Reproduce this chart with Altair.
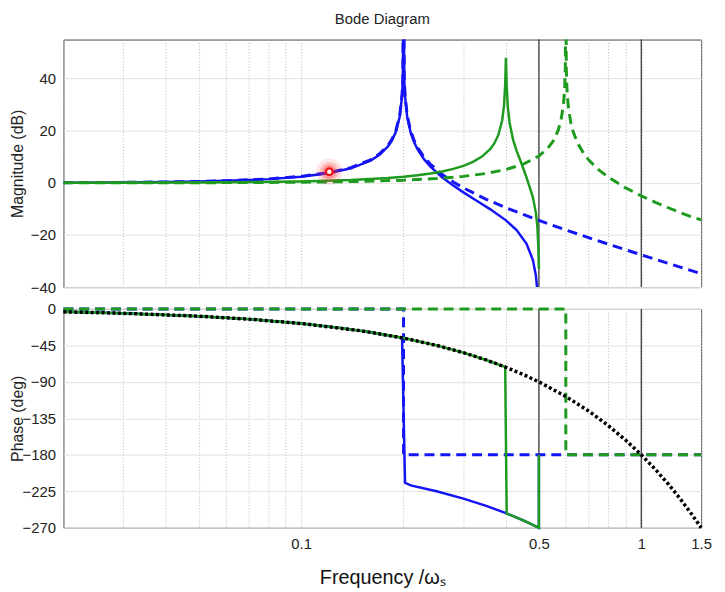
import altair as alt
import pandas as pd

# ---------------- data ----------------
# Magnitude panel (dB)
f_blue_solid = [0.02, 0.03, 0.04, 0.05, 0.06, 0.08, 0.1, 0.12, 0.14, 0.16, 0.17, 0.18, 0.185, 0.19,
                0.195, 0.198, 0.199, 0.2, 0.201, 0.202, 0.205, 0.21, 0.215, 0.22, 0.23, 0.24, 0.26,
                0.28, 0.3, 0.33, 0.36, 0.4, 0.43, 0.46, 0.48, 0.49, 0.495, 0.5]
m_blue_solid = [0.08, 0.19, 0.34, 0.53, 0.78, 1.44, 2.37, 3.69, 5.59, 8.53, 10.74, 13.97, 16.33, 19.71,
                25.59, 33.46, 39.5, 80.0, 39.4, 33.34, 25.3, 19.13, 15.47, 12.82, 9.01, 6.22, 2.09,
                -1.04, -3.65, -7.04, -10.15, -14.38, -18.12, -23.38, -29.54, -35.59, -41.6, -80.0]

f_blue_dash = [0.02, 0.03, 0.04, 0.05, 0.06, 0.08, 0.1, 0.12, 0.14, 0.16, 0.17, 0.18, 0.185, 0.19,
               0.195, 0.198, 0.199, 0.2, 0.201, 0.202, 0.205, 0.21, 0.215, 0.22, 0.23, 0.24, 0.26,
               0.28, 0.3, 0.35, 0.4, 0.5, 0.6, 0.7, 0.8, 1.0, 1.2, 1.5]
m_blue_dash = [0.09, 0.2, 0.36, 0.56, 0.82, 1.51, 2.5, 3.88, 5.85, 8.87, 11.14, 14.42, 16.81, 20.22,
               26.13, 34.0, 40.0, 80.0, 39.97, 33.9, 25.91, 19.79, 16.16, 13.56, 9.83, 7.13, 3.22,
               0.36, -1.94, -6.29, -9.54, -14.4, -18.06, -21.02, -23.52, -27.6, -30.88, -34.85]

f_green_solid = [0.02, 0.05, 0.1, 0.14, 0.18, 0.2, 0.22, 0.24, 0.26, 0.28, 0.3, 0.32, 0.34, 0.36,
                 0.37, 0.38, 0.39, 0.395, 0.398, 0.4, 0.402, 0.405, 0.41, 0.42, 0.43, 0.44, 0.46,
                 0.48, 0.49, 0.495, 0.498, 0.5]
m_green_solid = [0.02, 0.13, 0.53, 1.07, 1.85, 2.34, 2.92, 3.59, 4.4, 5.37, 6.55, 8.06, 10.08, 13.04,
                 15.23, 18.4, 24.03, 29.85, 37.7, 48.0, 37.57, 29.38, 23.1, 16.5, 12.3, 8.97, 2.0,
                 -5.5, -11.5, -17.0, -24.5, -33.0]

f_green_dash = [0.02, 0.05, 0.1, 0.15, 0.2, 0.25, 0.3, 0.35, 0.4, 0.45, 0.5, 0.53, 0.55, 0.57, 0.58,
                0.59, 0.595, 0.598, 0.6, 0.602, 0.605, 0.61, 0.62, 0.63, 0.65, 0.68, 0.7, 0.75, 0.8,
                0.9, 1.0, 1.1, 1.2, 1.3, 1.4, 1.5]
m_green_dash = [0.01, 0.06, 0.25, 0.56, 1.02, 1.66, 2.5, 3.61, 5.11, 7.18, 10.3, 13.16, 15.93, 20.22,
                23.67, 29.61, 35.6, 43.5, 80.0, 43.5, 35.53, 29.47, 23.38, 19.79, 15.21, 10.92, 8.85,
                5.0, 2.18, -1.94, -5.0, -7.46, -9.54, -11.35, -12.96, -14.2]

marker_f = [0.121]
marker_m = [4.3]

# Phase panel (deg)
f_delay = [0.02, 0.03, 0.05, 0.07, 0.1, 0.15, 0.2, 0.25, 0.3, 0.35, 0.4, 0.45, 0.5, 0.6, 0.7, 0.8,
           0.9, 1.0, 1.1, 1.2, 1.3, 1.4, 1.5]
p_delay = [-3.6, -5.4, -9, -12.6, -18, -27, -36, -45, -54, -63, -72, -81, -90, -108, -126, -144,
           -162, -180, -198, -216, -234, -252, -270]

f_blue_solid_ph = [0.02, 0.03, 0.05, 0.07, 0.1, 0.13, 0.16, 0.19, 0.198, 0.2, 0.202, 0.21, 0.25,
                   0.3, 0.35, 0.4, 0.45, 0.5, 0.5]
p_blue_solid_ph = [-3.6, -5.4, -9, -12.6, -18, -23.4, -28.8, -34.2, -35.6, -126, -214.5, -217.8,
                   -225, -234, -243, -252, -261, -270, -180]

f_green_solid_ph = [0.02, 0.03, 0.05, 0.07, 0.1, 0.13, 0.16, 0.2, 0.25, 0.3, 0.35, 0.39, 0.398,
                    0.4, 0.402, 0.42, 0.45, 0.48, 0.5, 0.5]
p_green_solid_ph = [-3.6, -5.4, -9, -12.6, -18, -23.4, -28.8, -36, -45, -54, -63, -70.2, -71.6,
                    -162, -252.4, -255.6, -261, -266.4, -270, -180]

f_blue_dash_ph = [0.02, 0.2, 0.2, 1.5]
p_blue_dash_ph = [0, 0, -180, -180]
f_green_dash_ph = [0.02, 0.6, 0.6, 1.5]
p_green_dash_ph = [0, 0, -180, -180]

# axes / reference lines
x_grid_values = [0.02, 0.03, 0.04, 0.05, 0.06, 0.07, 0.08, 0.09, 0.1, 0.2, 0.3, 0.4, 0.5, 0.6,
                 0.7, 0.8, 0.9, 1.0, 1.5]
x_black_lines = [0.5, 1.0]
mag_ticks = [-40, -20, 0, 20, 40]
phase_ticks = [0, -45, -90, -135, -180, -225, -270]

# ---------------- chart ----------------
FONT = "Liberation Sans"
BLUE = "#1414f5"
GREEN = "#1e9b1e"
W = 644


def frame(f, v):
    return pd.DataFrame({"f": f, "v": v, "i": list(range(len(f)))})


xscale = alt.Scale(type="log", domain=[0.02, 1.5], nice=False)

label_expr = ("(datum.value == 0.1 || datum.value == 0.5 || datum.value == 1 || datum.value == 1.5)"
              " ? format(datum.value, '~g') : ''")


def x_axis(bottom):
    return alt.Axis(values=x_grid_values, grid=True, gridDash=[1, 2], gridColor="#b8b8b8",
                    gridWidth=1, ticks=False, domain=False, labels=bottom,
                    labelExpr=label_expr, labelOverlap=False, labelFlush=False,
                    labelFontSize=15, labelFont=FONT, labelColor="#222", labelPadding=9,
                    title="Frequency /\u03c9\u209b" if bottom else None,
                    titleFontSize=20, titleFont=FONT, titleFontWeight="normal",
                    titleColor="#111", titlePadding=16)


def y_axis(title, values, h):
    return alt.Axis(values=values, grid=True, gridColor="#e2e2e2", gridWidth=1, ticks=False,
                    domain=False, labelFontSize=15, labelFont=FONT, labelColor="#222",
                    labelPadding=8, title=title, titleFontSize=16, titleFont=FONT,
                    titleFontWeight="normal", titleColor="#222", titleX=-38, titleY=h / 2)


def panel(layers_spec, yscale, yaxis, bottom):
    layers = []
    # black vertical reference lines
    layers.append(alt.Chart(pd.DataFrame({"f": x_black_lines})).mark_rule(
        color="#2b2b2b", strokeWidth=1.2).encode(
        x=alt.X("f:Q", scale=xscale, axis=x_axis(bottom))))
    for df, color, width, dash, clip in layers_spec:
        kw = dict(color=color, strokeWidth=width, clip=clip, strokeCap="butt")
        if dash:
            kw["strokeDash"] = dash
        layers.append(alt.Chart(df).mark_line(**kw).encode(
            x=alt.X("f:Q", scale=xscale, axis=x_axis(bottom)),
            y=alt.Y("v:Q", scale=yscale, axis=yaxis),
            order=alt.Order("i:Q")))
    return layers


H1, H2 = 250, 221
mag_scale = alt.Scale(domain=[-40, 55], nice=False, zero=False)
ph_scale = alt.Scale(domain=[-270, 0], nice=False, zero=False)
mag_axis = y_axis("Magnitude (dB)", mag_ticks, H1)
ph_axis = y_axis("Phase (deg)", phase_ticks, H2)

mag_layers = panel([
    (frame(f_blue_solid, m_blue_solid), BLUE, 2.5, None, True),
    (frame(f_blue_dash, m_blue_dash), BLUE, 3, [10, 6], True),
    (frame(f_green_solid, m_green_solid), GREEN, 2.5, None, True),
    (frame(f_green_dash, m_green_dash), GREEN, 3, [10, 6], True),
], mag_scale, mag_axis, False)

mk = frame(marker_f, marker_m)
for size, op in [(700, 0.12), (380, 0.2), (200, 0.3)]:
    mag_layers.append(alt.Chart(mk).mark_circle(color="#ff3030", opacity=op, size=size).encode(
        x=alt.X("f:Q", scale=xscale, axis=x_axis(False)),
        y=alt.Y("v:Q", scale=mag_scale, axis=mag_axis)))
mag_layers.append(alt.Chart(mk).mark_point(filled=False, color="#ee1111", strokeWidth=2.2,
                                           size=45, fill="white", fillOpacity=1).encode(
    x=alt.X("f:Q", scale=xscale, axis=x_axis(False)),
    y=alt.Y("v:Q", scale=mag_scale, axis=mag_axis)))

top = alt.layer(*mag_layers).properties(
    width=W, height=H1,
    title=alt.TitleParams("Bode Diagram", fontSize=15, font=FONT, fontWeight="normal",
                          color="#222", anchor="middle", offset=12))

ph_layers = panel([
    (frame(f_blue_solid_ph, p_blue_solid_ph), BLUE, 2.5, None, False),
    (frame(f_blue_dash_ph, p_blue_dash_ph), BLUE, 3, [10, 6], False),
    (frame(f_green_solid_ph, p_green_solid_ph), GREEN, 2.5, None, False),
    (frame(f_green_dash_ph, p_green_dash_ph), GREEN, 3, [10, 6], False),
    (frame(f_delay, p_delay), "#000000", 3.5, [3, 2.5], False),
], ph_scale, ph_axis, True)

bottom = alt.layer(*ph_layers).properties(width=W, height=H2)

chart = alt.vconcat(top, bottom, spacing=5).properties(
    padding={"left": 1, "top": 0, "right": 5, "bottom": 0},
    background="white",
).configure_view(stroke="#4a4a4a", strokeWidth=1)

chart.save("out.html", embed_options={"renderer": "svg", "actions": False})
